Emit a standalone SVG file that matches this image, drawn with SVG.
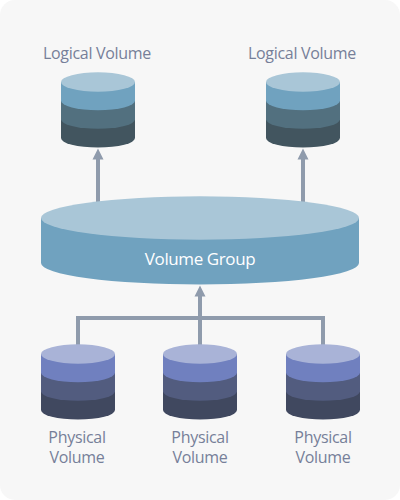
<svg xmlns="http://www.w3.org/2000/svg" width="400" height="500" viewBox="0 0 400 500">
<style>
text{font-family:"Open Sans","Liberation Sans",sans-serif;font-size:16px;letter-spacing:-0.300px;fill:#767f99;text-anchor:middle}
.conn{fill:none;stroke:#8f9bac;stroke-width:4}
.head{fill:#8f9bac}
</style>
<defs>
<g id="lv">
<path d="M-37 37.300v18.700a37 9.500 0 0 0 74 0v-18.700z" fill="#42555f"/>
<path d="M-37 18.700v18.600a37 9.500 0 0 0 74 0v-18.600z" fill="#52707f"/>
<path d="M-37 0v18.700a37 9.500 0 0 0 74 0v-18.700z" fill="#70a2bf"/>
<ellipse cx="0" cy="0" rx="37" ry="9.700" fill="#a9c6d7"/>
</g>
<g id="pv">
<path d="M-37 37.300v18.700a37 9.500 0 0 0 74 0v-18.700z" fill="#40485f"/>
<path d="M-37 18.700v18.600a37 9.500 0 0 0 74 0v-18.600z" fill="#525c7f"/>
<path d="M-37 0v18.700a37 9.500 0 0 0 74 0v-18.700z" fill="#7080bf"/>
<ellipse cx="0" cy="0" rx="37" ry="9.700" fill="#a9b3d7"/>
</g>
</defs>
<rect width="400" height="500" fill="#fff"/>
<rect x="0" y="0" width="400" height="500" rx="15" fill="#f7f7f7"/>
<g id="connectors">
<path class="conn" d="M98 202V158M303 202V158M200 345V295M78 345V318H323V345"/>
<path class="head" d="M98 148.500l5.500 11h-11zM303 148.500l5.500 11h-11zM200 285.500l5.500 11h-11z"/>
</g>
<g id="lv1"><text x="97" y="59">Logical Volume</text><use href="#lv" transform="translate(98 82)"/></g>
<g id="lv2"><text x="302" y="59">Logical Volume</text><use href="#lv" transform="translate(303 82)"/></g>
<g id="vg">
<path d="M41 218v45a159 21.500 0 0 0 318 0v-45z" fill="#70a2bf"/>
<ellipse cx="200" cy="218" rx="159" ry="21.700" fill="#a9c6d7"/>
<text x="200" y="265" style="fill:#fff;font-size:17px;letter-spacing:-0.400px">Volume Group</text>
</g>
<g id="pv1"><use href="#pv" transform="translate(78 354)"/><text x="77" y="443">Physical</text><text x="77" y="463">Volume</text></g>
<g id="pv2"><use href="#pv" transform="translate(200 354)"/><text x="200" y="443">Physical</text><text x="200" y="463">Volume</text></g>
<g id="pv3"><use href="#pv" transform="translate(323 354)"/><text x="323" y="443">Physical</text><text x="323" y="463">Volume</text></g>
</svg>
